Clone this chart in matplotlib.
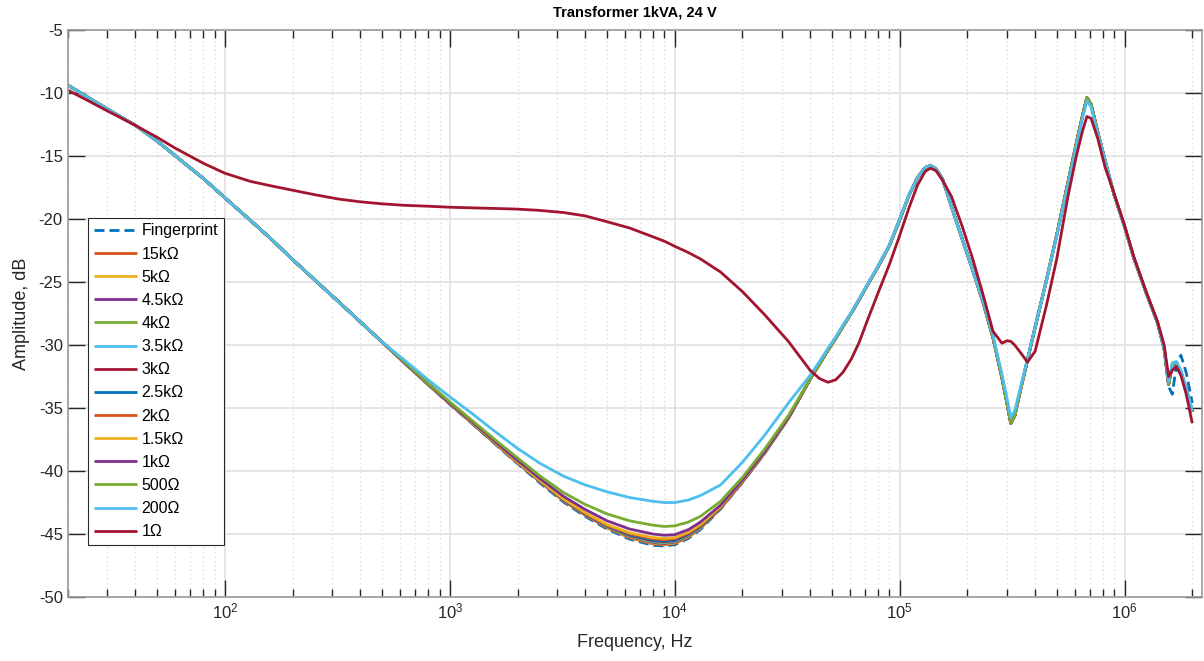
import math
import matplotlib
matplotlib.use("Agg")
import matplotlib.pyplot as plt
from matplotlib.ticker import FixedLocator, FuncFormatter, NullFormatter

plt.rcParams['font.family'] = ['Liberation Sans', 'DejaVu Sans']
plt.rcParams['axes.unicode_minus'] = False

# frequency grid (Hz), split in three bands
freq_lo = [20, 25, 30, 40, 50, 60, 80, 100, 130, 160, 200, 250, 320, 400, 500]
freq_mid = [630, 800, 1000, 1250, 1600, 2000, 2500, 3200, 4000, 5000, 6300, 8000,
            9000, 10000, 11500, 13000, 16000, 20000, 25000, 32000]
freq_hi = [40000, 44000, 48000, 52000, 56000, 61000, 66000, 72000, 80000, 90000, 100000,
           110000, 120000, 130000, 137000, 145000, 155000, 170000, 190000, 210000, 235000,
           260000, 285000, 300000, 312000, 325000, 345000, 370000, 400000, 450000, 500000,
           560000, 610000, 650000, 680000, 710000, 760000, 820000, 900000, 1000000, 1100000,
           1250000, 1400000, 1500000, 1570000, 1630000, 1700000, 1780000, 1880000, 2000000]
freq = freq_lo + freq_mid + freq_hi

# low band, same for every load except 1 ohm
lo_common = [-9.35, -10.4, -11.25, -12.55, -13.8, -14.95, -16.75, -18.3, -20.1, -21.55,
             -23.2, -24.8, -26.55, -28.15, -29.75]

# mid band (630 Hz .. 32 kHz), one list per curve
mid_fp = [-31.45, -33.15, -34.7, -36.2, -37.9, -39.4, -40.9, -42.45, -43.6, -44.6, -45.4,
          -45.9, -45.95, -45.85, -45.35, -44.65, -43.0, -40.9, -38.65, -35.85]
mid_15k = [-31.4, -33.1, -34.65, -36.15, -37.85, -39.35, -40.8, -42.35, -43.5, -44.5, -45.3,
           -45.78, -45.85, -45.75, -45.25, -44.55, -42.95, -40.85, -38.6, -35.8]
mid_5k = [-31.4, -33.1, -34.65, -36.15, -37.85, -39.33, -40.78, -42.33, -43.47, -44.46, -45.25,
          -45.73, -45.8, -45.7, -45.2, -44.52, -42.93, -40.85, -38.6, -35.8]
mid_4k5 = [-31.4, -33.1, -34.65, -36.14, -37.84, -39.32, -40.77, -42.31, -43.45, -44.43, -45.2,
           -45.68, -45.75, -45.65, -45.15, -44.48, -42.92, -40.84, -38.6, -35.8]
mid_4k = [-31.4, -33.1, -34.64, -36.14, -37.83, -39.31, -40.76, -42.3, -43.43, -44.4, -45.16,
          -45.63, -45.7, -45.6, -45.1, -44.45, -42.9, -40.84, -38.6, -35.8]
mid_3k5 = [-31.4, -33.1, -34.64, -36.13, -37.82, -39.3, -40.75, -42.28, -43.41, -44.37, -45.12,
           -45.58, -45.65, -45.56, -45.06, -44.42, -42.89, -40.83, -38.59, -35.8]
mid_3k = [-31.4, -33.1, -34.64, -36.13, -37.81, -39.29, -40.74, -42.27, -43.4, -44.35, -45.08,
          -45.53, -45.6, -45.51, -45.02, -44.39, -42.88, -40.83, -38.59, -35.79]
mid_2k5 = [-31.4, -33.1, -34.63, -36.12, -37.8, -39.28, -40.73, -42.26, -43.38, -44.33, -45.04,
           -45.48, -45.55, -45.46, -44.98, -44.36, -42.87, -40.82, -38.58, -35.79]
mid_2k = [-31.4, -33.1, -34.63, -36.11, -37.79, -39.27, -40.72, -42.24, -43.36, -44.3, -44.97,
          -45.38, -45.45, -45.37, -44.92, -44.31, -42.85, -40.8, -38.57, -35.79]
mid_1k5 = [-31.4, -33.1, -34.62, -36.1, -37.78, -39.25, -40.7, -42.2, -43.3, -44.25, -44.9,
           -45.28, -45.35, -45.28, -44.85, -44.25, -42.8, -40.75, -38.55, -35.78]
mid_1k = [-31.4, -33.05, -34.6, -36.05, -37.7, -39.15, -40.55, -42.0, -43.05, -43.95, -44.6,
          -45.0, -45.1, -45.05, -44.65, -44.05, -42.7, -40.7, -38.5, -35.75]
mid_500 = [-31.35, -33.0, -34.5, -35.95, -37.55, -38.95, -40.35, -41.7, -42.65, -43.4, -43.95,
           -44.3, -44.4, -44.35, -44.05, -43.6, -42.4, -40.5, -38.3, -35.6]
mid_200 = [-31.2, -32.75, -34.1, -35.4, -36.9, -38.2, -39.35, -40.4, -41.1, -41.65, -42.1,
           -42.4, -42.5, -42.5, -42.3, -41.95, -41.1, -39.3, -37.2, -34.6]

# high band (40 kHz .. 2 MHz)
hi_common = [-32.7, -31.5, -30.4, -29.45, -28.5, -27.45, -26.4, -25.2, -23.8, -22.1, -20.05,
             -18.1, -16.7, -15.9, -15.75, -16.0, -16.8, -19.0, -21.6, -23.9, -26.6,
             -29.4, -32.6, -34.6, -36.2, -35.6, -33.5, -31.2, -28.6, -24.8, -21.2,
             -17.1, -14.0, -11.8, -10.35, -10.9, -13.1, -15.4, -18.1, -20.6, -23.1,
             -25.9, -28.2, -30.3, -33.1, -31.6, -31.4, -32.1, -33.5, -35.3]
hi_200 = [-32.4, -31.3, -30.25, -29.35, -28.4, -27.4, -26.35, -25.15, -23.75, -22.05, -20.0,
          -18.05, -16.7, -15.9, -15.75, -16.0, -16.8, -19.0, -21.6, -23.9, -26.5,
          -29.2, -32.3, -34.2, -35.75, -35.2, -33.3, -31.1, -28.6, -24.8, -21.3,
          -17.3, -14.2, -12.0, -10.6, -11.1, -13.2, -15.4, -18.1, -20.6, -23.1,
          -25.9, -28.2, -30.3, -32.9, -31.4, -31.3, -32.0, -33.4, -35.2]
hi_fp = [-32.7, -31.5, -30.4, -29.45, -28.5, -27.45, -26.4, -25.2, -23.8, -22.1, -20.05,
         -18.1, -16.7, -15.9, -15.75, -16.0, -16.8, -19.0, -21.6, -23.9, -26.6,
         -29.4, -32.6, -34.6, -36.2, -35.6, -33.5, -31.2, -28.6, -24.8, -21.2,
         -17.1, -14.0, -11.8, -10.35, -10.9, -13.1, -15.4, -18.1, -20.6, -23.1,
         -25.9, -28.2, -30.4, -33.3, -33.9, -31.6, -30.8, -32.2, -34.6]

# 1 ohm load, full range
db_1 = [-9.75, -10.65, -11.4, -12.55, -13.5, -14.35, -15.55, -16.35, -17.0, -17.35,
        -17.7, -18.05, -18.4, -18.62, -18.78,
        -18.9, -18.97, -19.05, -19.1, -19.15, -19.2, -19.3, -19.47, -19.74, -20.2, -20.7,
        -21.4, -21.75, -22.15, -22.65, -23.15, -24.2, -25.75, -27.55, -29.7,
        -32.0, -32.65, -32.95, -32.75, -32.15, -31.1, -29.8, -28.0, -25.9, -23.6, -21.3,
        -19.1, -17.3, -16.2, -15.95, -16.15, -16.9, -18.2, -20.6, -23.0, -26.0,
        -28.9, -29.85, -29.65, -29.7, -30.0, -30.6, -31.35, -30.5, -26.8, -23.1,
        -18.2, -15.0, -13.0, -11.85, -12.0, -13.6, -15.9, -18.0, -20.5, -23.0,
        -25.8, -28.1, -30.0, -32.5, -32.0, -31.7, -32.4, -33.9, -36.2]

labels = ['Fingerprint', '15k\u03A9', '5k\u03A9', '4.5k\u03A9', '4k\u03A9', '3.5k\u03A9',
          '3k\u03A9', '2.5k\u03A9', '2k\u03A9', '1.5k\u03A9', '1k\u03A9', '500\u03A9',
          '200\u03A9', '1\u03A9']
mids = [mid_fp, mid_15k, mid_5k, mid_4k5, mid_4k, mid_3k5, mid_3k, mid_2k5, mid_2k,
        mid_1k5, mid_1k, mid_500, mid_200]

colors = ['#0072BD', '#D95319', '#EDB120', '#7E2F8E', '#77AC30', '#4DBEEE', '#A2142F']

fig = plt.figure(figsize=(12.04, 6.61), dpi=100)
ax = fig.add_axes([0.0562, 0.0968, 0.9418, 0.8574])

for i, lab in enumerate(labels):
    c = colors[i % 7]
    if lab == '1\u03A9':
        y = db_1
    else:
        if i == 0:
            hi = hi_fp
        elif lab == '200\u03A9':
            hi = hi_200
        else:
            hi = hi_common
        y = lo_common + mids[i] + hi
    if i == 0:
        ax.plot(freq, y, color=c, lw=2, dashes=(3.6, 1.8), label=lab)
    else:
        ax.plot(freq, y, color=c, lw=2, label=lab, solid_capstyle='butt')

ax.set_xscale('log')
ax.set_xlim(20, 2.2e6)
ax.set_ylim(-50, -5)
ax.set_yticks(range(-50, -4, 5))
ax.xaxis.set_major_locator(FixedLocator([1e2, 1e3, 1e4, 1e5, 1e6]))
minors = [m * 10 ** d for d in range(1, 7) for m in range(2, 10)]
ax.xaxis.set_minor_locator(FixedLocator(minors))
ax.xaxis.set_major_formatter(FuncFormatter(lambda v, p: r'$\mathregular{10^{%d}}$' % round(math.log10(v))))
ax.xaxis.set_minor_formatter(NullFormatter())

ax.grid(True, which='major', color='#e3e3e3', lw=1.3)
ax.grid(True, which='minor', axis='x', color='#d0d0d0', lw=0.8, linestyle=(0, (1, 3)))
ax.set_axisbelow(True)

ax.tick_params(which='both', direction='in', top=True, right=True, colors='#262626',
               labelsize=12, labelcolor='#262626')
ax.tick_params(which='major', length=12, width=1)
ax.tick_params(which='minor', length=6, width=1)
for s in ax.spines.values():
    s.set_color('#9a9a9a')
    s.set_linewidth(1.2)

ax.set_xlabel('Frequency, Hz', fontsize=13, color='#262626', labelpad=9)
ax.set_ylabel('Amplitude, dB', fontsize=13, color='#262626', labelpad=6)
ax.set_title('Transformer 1kVA, 24 V', fontsize=10.5, fontweight='bold', pad=10)

leg = ax.legend(loc='upper left', bbox_to_anchor=(0.0179, 0.669), borderaxespad=0,
                fontsize=11.5, handlelength=2.7, handletextpad=0.3, labelspacing=0.51,
                fancybox=False, framealpha=1, edgecolor='#262626', borderpad=0.35)
leg.get_frame().set_linewidth(0.8)

fig.savefig('out.png', dpi=100)
